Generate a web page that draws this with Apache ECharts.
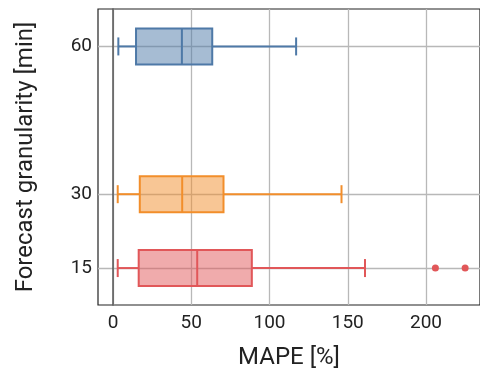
<!DOCTYPE html>
<html><head><meta charset="utf-8">
<script src="https://cdn.jsdelivr.net/npm/echarts@6/dist/echarts.min.js"></script>
<style>html,body{margin:0;padding:0;background:#fff}#c{width:480px;height:376px}</style>
</head><body><div id="c"></div>
<script>
// Forecast granularity [min]
const granularities = [60, 30, 15];
// [min whisker, Q1, median, Q3, max whisker] in MAPE %
const stats60 = [3.4, 14.7, 44.0, 63.4, 117.0];
const stats30 = [3.0, 17.1, 44.2, 70.6, 146.0];
const stats15 = [3.0, 16.4, 53.8, 88.7, 161.0];
const outliers15 = [206, 225];
const xTicks = [0, 50, 100, 150, 200];
const colors = ['#4e79a7', '#f28e2b', '#e15759'];
const fills = ['rgba(78,121,167,0.5)', 'rgba(242,142,43,0.5)', 'rgba(225,87,89,0.5)'];

const allStats = [stats60, stats30, stats15];
const FONT = 'Roboto';

function renderBox(params, api) {
  const y = api.value(0);
  const mn = api.value(1), q1 = api.value(2), md = api.value(3), q3 = api.value(4), mx = api.value(5);
  const c = colors[params.dataIndex];
  const f = fills[params.dataIndex];
  const pMin = api.coord([mn, y]), pQ1 = api.coord([q1, y]), pMd = api.coord([md, y]);
  const pQ3 = api.coord([q3, y]), pMx = api.coord([mx, y]);
  const hb = 18, hc = 9;
  const ls = {stroke: c, lineWidth: 2, fill: null};
  return {
    type: 'group',
    children: [
      {type: 'line', shape: {x1: pMin[0], y1: pMin[1], x2: pQ1[0], y2: pQ1[1]}, style: ls},
      {type: 'line', shape: {x1: pQ3[0], y1: pQ3[1], x2: pMx[0], y2: pMx[1]}, style: ls},
      {type: 'line', shape: {x1: pMin[0], y1: pMin[1] - hc, x2: pMin[0], y2: pMin[1] + hc}, style: ls},
      {type: 'line', shape: {x1: pMx[0], y1: pMx[1] - hc, x2: pMx[0], y2: pMx[1] + hc}, style: ls},
      {type: 'rect', shape: {x: pQ1[0], y: pQ1[1] - hb, width: pQ3[0] - pQ1[0], height: 2 * hb},
        style: {fill: f, stroke: c, lineWidth: 2}},
      {type: 'line', shape: {x1: pMd[0], y1: pMd[1] - hb, x2: pMd[0], y2: pMd[1] + hb}, style: ls}
    ]
  };
}

const chart = echarts.init(document.getElementById('c'), null, {renderer: 'canvas'});
chart.setOption({
  animation: false,
  grid: {left: 98, right: -3, top: 9, bottom: 71, show: true, borderColor: '#222', borderWidth: 1.2, containLabel: false},
  xAxis: {
    type: 'value', min: -9.6, max: 234.5,
    name: 'MAPE [%]', nameLocation: 'middle', nameGap: 41,
    nameTextStyle: {fontFamily: FONT, fontSize: 24, color: '#222'},
    axisLine: {show: false},
    axisTick: {show: false, customValues: xTicks},
    axisLabel: {customValues: xTicks, fontFamily: FONT, fontSize: 19, color: '#222', margin: 9},
    splitLine: {show: true, lineStyle: {color: '#b8b8b8', width: 1.3}}
  },
  yAxis: {
    type: 'value', min: 7.5, max: 67.6,
    name: 'Forecast granularity [min]', nameLocation: 'middle', nameGap: 60,
    nameTextStyle: {fontFamily: FONT, fontSize: 24, color: '#222'},
    axisLine: {show: true, onZero: true, lineStyle: {color: '#555', width: 1.5}},
    axisTick: {show: false, customValues: granularities},
    axisLabel: {customValues: granularities, fontFamily: FONT, fontSize: 19, color: '#222', margin: 6,
      showMinLabel: true, showMaxLabel: true},
    splitLine: {show: true, lineStyle: {color: '#b8b8b8', width: 1.3}}
  },
  series: [
    {
      type: 'custom',
      renderItem: renderBox,
      encode: {y: 0, x: [1, 2, 3, 4, 5]},
      data: granularities.map((g, i) => [g].concat(allStats[i])),
      z: 3
    },
    {
      type: 'scatter',
      symbolSize: 7,
      itemStyle: {color: colors[2], opacity: 1},
      data: outliers15.map(v => [v, granularities[2]]),
      z: 4
    }
  ]
});
</script></body></html>
